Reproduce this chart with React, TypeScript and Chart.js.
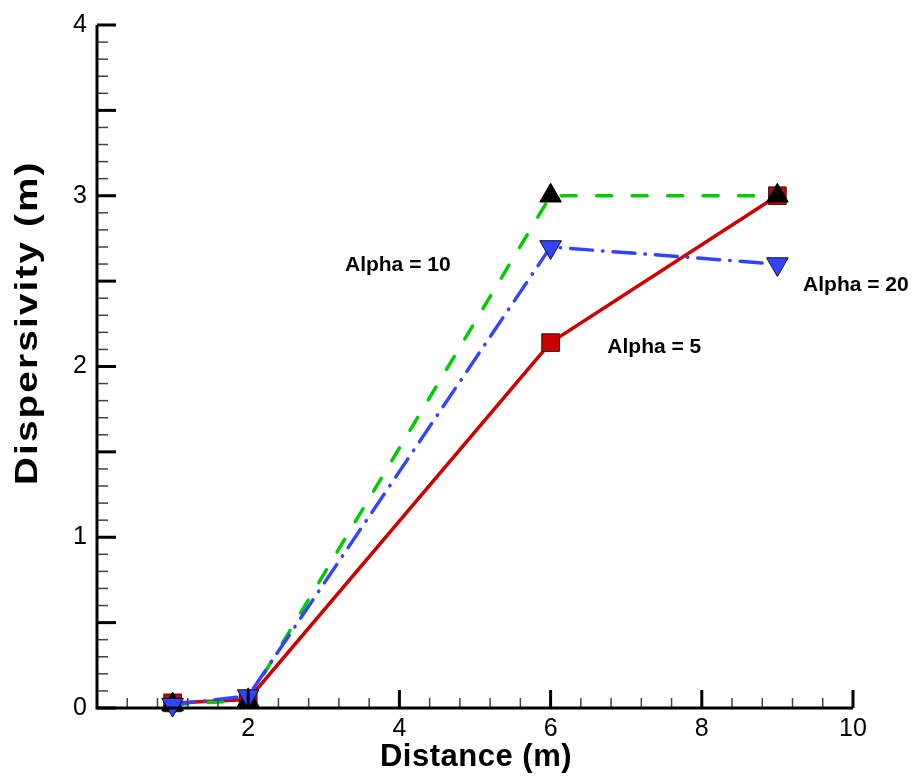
import React, { useEffect, useRef } from 'react';
import { Chart, registerables } from 'chart.js';

Chart.register(...registerables);

// ---- data ----
const distance = [1, 2, 6, 9];
const alpha5 = [0.03, 0.05, 2.14, 3.0];
const alpha10 = [0.02, 0.045, 3.0, 3.0];
const alpha20 = [0.02, 0.07, 2.7, 2.6];

const xTickValues = [2, 4, 6, 8, 10];
const xTickLabels = ['2', '4', '6', '8', '10'];
const yTickValues = [0, 1, 2, 3, 4];
const yTickLabels = ['0', '1', '2', '3', '4'];

const seriesNames = ['Alpha = 5', 'Alpha = 10', 'Alpha = 20'];
// annotation anchors (data coordinates)
const labelX = [6.75, 3.28, 9.34];
const labelY = [2.08, 2.56, 2.445];

const xTitle = 'Distance (m)';
const yTitle = 'Dispersivity (m)';

const FONT = "'Liberation Sans', Arial, Helvetica, sans-serif";
const RED = 'rgb(204,0,0)';
const GREEN = 'rgb(0,204,0)';
const BLUE = 'rgb(51,68,255)';

const tecplotPlugin = {
  id: 'tecplotAxes',
  afterDatasetsDraw(chart: any) {
    const { ctx, scales } = chart;
    const x = scales.x;
    const y = scales.y;
    const x0 = x.getPixelForValue(0);
    const x1 = x.getPixelForValue(10);
    const yb = y.getPixelForValue(0);
    const yt = y.getPixelForValue(4);
    const seg = (a: number, b: number, c: number, d: number) => {
      ctx.beginPath();
      ctx.moveTo(a, b);
      ctx.lineTo(c, d);
      ctx.stroke();
    };
    ctx.save();
    ctx.lineCap = 'butt';
    // minor ticks
    ctx.strokeStyle = '#444';
    ctx.lineWidth = 1.5;
    for (let i = 1; i < 25; i++) {
      if (i % 5 === 0) continue;
      const px = x.getPixelForValue(i * 0.4);
      seg(px, yb, px, yb - 10);
    }
    for (let i = 1; i < 40; i++) {
      if (i % 5 === 0) continue;
      const py = y.getPixelForValue(i * 0.1);
      seg(x0, py, x0 + 11, py);
    }
    // major ticks
    ctx.strokeStyle = '#000';
    ctx.lineWidth = 3;
    for (let i = 1; i <= 5; i++) {
      const px = x.getPixelForValue(i * 2);
      seg(px, yb, px, yb - 18);
    }
    for (let i = 0; i <= 8; i++) {
      const py = y.getPixelForValue(i * 0.5);
      seg(x0, py, x0 + 19, py);
    }
    // axis lines
    ctx.lineJoin = 'miter';
    ctx.beginPath();
    ctx.moveTo(x0, yt);
    ctx.lineTo(x0, yb);
    ctx.lineTo(x1, yb);
    ctx.stroke();
    ctx.restore();
  },
  afterDraw(chart: any) {
    const { ctx, scales } = chart;
    const x = scales.x;
    const y = scales.y;
    ctx.save();
    ctx.fillStyle = '#000';
    // annotations
    ctx.font = `bold 21px ${FONT}`;
    ctx.textAlign = 'left';
    ctx.textBaseline = 'alphabetic';
    seriesNames.forEach((t, i) => {
      ctx.fillText(t, x.getPixelForValue(labelX[i]), y.getPixelForValue(labelY[i]));
    });
    // axis titles
    ctx.font = `bold 31px ${FONT}`;
    ctx.textAlign = 'center';
    (ctx as any).letterSpacing = '0.5px';
    ctx.fillText(xTitle, 476, 766);
    ctx.translate(37, 324);
    ctx.rotate(-Math.PI / 2);
    ctx.scale(1.25, 1);
    (ctx as any).letterSpacing = '1.7px';
    ctx.fillText(yTitle, 1, 0);
    ctx.restore();
  },
};

export default function App() {
  const ref = useRef<HTMLCanvasElement | null>(null);
  useEffect(() => {
    if (!ref.current) return;
    const mk = (vals: number[]) => distance.map((d, i) => ({ x: d, y: vals[i] }));
    const chart = new Chart(ref.current, {
      type: 'line',
      data: {
        datasets: [
          {
            label: seriesNames[2],
            data: mk(alpha20),
            borderColor: BLUE,
            borderWidth: 3.5,
            borderDash: [22, 10, 0.5, 10],
            borderCapStyle: 'round',
            pointStyle: 'triangle',
            rotation: 180,
            pointRadius: 12.5,
            pointHoverRadius: 12.5,
            pointBackgroundColor: BLUE,
            pointBorderColor: '#111',
            pointBorderWidth: 1,
            clip: false,
            order: 0,
          } as any,
          {
            label: seriesNames[1],
            data: mk(alpha10),
            borderColor: GREEN,
            borderWidth: 3.5,
            borderDash: [15, 20.5],
            borderCapStyle: 'round',
            pointStyle: 'triangle',
            pointRadius: 12.5,
            pointHoverRadius: 12.5,
            pointBackgroundColor: '#000',
            pointBorderColor: '#000',
            pointBorderWidth: 1,
            clip: false,
            order: 1,
          } as any,
          {
            label: seriesNames[0],
            data: mk(alpha5),
            borderColor: RED,
            borderWidth: 3.5,
            pointStyle: 'rect',
            pointRadius: 12.5,
            pointHoverRadius: 12.5,
            pointBackgroundColor: RED,
            pointBorderColor: '#222',
            pointBorderWidth: 1,
            clip: false,
            order: 2,
          } as any,
        ],
      },
      options: {
        animation: false,
        responsive: false,
        devicePixelRatio: 1,
        events: [],
        layout: { padding: { left: 8, top: 19, right: 63, bottom: 0 } },
        plugins: { legend: { display: false }, tooltip: { enabled: false } },
        scales: {
          x: {
            type: 'linear',
            min: 0,
            max: 10,
            afterBuildTicks: (s: any) => {
              s.ticks = xTickValues.map((v) => ({ value: v }));
            },
            afterFit: (s: any) => {
              s.height = 71;
            },
            ticks: {
              autoSkip: false,
              maxRotation: 0,
              padding: 6,
              color: '#000',
              font: { family: FONT, size: 25 },
              callback: (v: any) => xTickLabels[xTickValues.indexOf(Number(v))] ?? '',
            },
            grid: { display: false, drawTicks: false },
            border: { display: false },
          },
          y: {
            type: 'linear',
            min: 0,
            max: 4,
            afterBuildTicks: (s: any) => {
              s.ticks = yTickValues.map((v) => ({ value: v }));
            },
            afterFit: (s: any) => {
              s.width = 89;
            },
            ticks: {
              autoSkip: false,
              padding: 10,
              color: '#000',
              font: { family: FONT, size: 25 },
              callback: (v: any) => yTickLabels[yTickValues.indexOf(Number(v))] ?? '',
            },
            grid: { display: false, drawTicks: false },
            border: { display: false },
          },
        },
      },
      plugins: [tecplotPlugin],
    } as any);
    return () => chart.destroy();
  }, []);
  return (
    <div style={{ position: 'fixed', left: 0, top: 0, width: 916, height: 779, background: '#fff' }}>
      <canvas ref={ref} width={916} height={779} style={{ width: 916, height: 779, display: 'block' }} />
    </div>
  );
}
